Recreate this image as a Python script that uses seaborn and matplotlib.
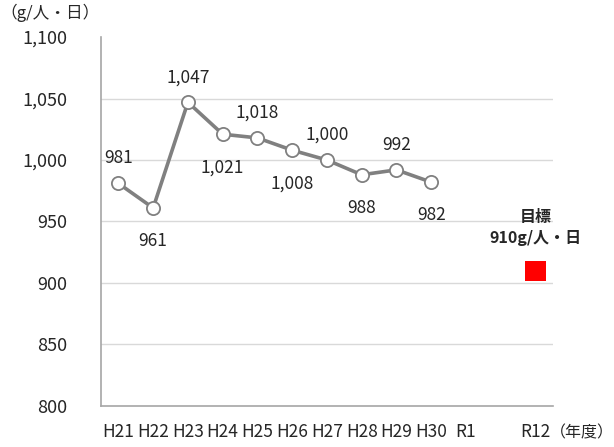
import matplotlib
matplotlib.use("Agg")
import matplotlib.pyplot as plt
import seaborn as sns
import pandas as pd
import numpy as np

# data
years = ["H21", "H22", "H23", "H24", "H25", "H26", "H27", "H28", "H29", "H30", "R1", "", "R12"]
actual_years = ["H21", "H22", "H23", "H24", "H25", "H26", "H27", "H28", "H29", "H30"]
amounts = [981, 961, 1047, 1021, 1018, 1008, 1000, 988, 992, 982]
label_above = [True, False, True, False, True, False, True, False, True, False]
target_year = "R12"
target_value = 910
y_ticks = [800, 850, 900, 950, 1000, 1050, 1100]

sns.set_style("white")
plt.rcParams['font.family'] = ['Noto Sans CJK JP', 'DejaVu Sans']

fig = plt.figure(figsize=(6.14, 4.47), dpi=100)
ax = fig.add_axes([0.1645, 0.092, 0.736, 0.825])

pos = {name: i for i, name in enumerate(years)}
df = pd.DataFrame({"x": [pos[y] for y in actual_years], "amount": amounts})

sns.lineplot(data=df, x="x", y="amount", ax=ax, color="#808080", linewidth=2.6,
             marker="o", markersize=9.5, markerfacecolor="white",
             markeredgecolor="#808080", markeredgewidth=1.3, zorder=3)

# target point
sns.scatterplot(x=[pos[target_year]], y=[target_value], ax=ax, marker="s",
                s=210, color="#ff0000", edgecolor="none", zorder=3)
ax.annotate("目標\n910g/人・日", (pos[target_year], target_value),
            xytext=(0, 31), textcoords="offset points", ha="center", va="center",
            fontsize=11.5, fontweight="bold", linespacing=1.35)

# data labels
for x, v, up in zip(df["x"], amounts, label_above):
    ax.annotate(f"{v:,}", (x, v), xytext=(0, 18 if up else -24),
                textcoords="offset points", ha="center", va="center", fontsize=12.5)

ax.set_xlim(-0.5, len(years) - 0.5)
ax.set_ylim(800, 1100)
ax.set_yticks(y_ticks)
ax.set_yticklabels([f"{t:,}" for t in y_ticks], fontsize=13)
ax.set_xticks(range(len(years)))
ax.set_xticklabels(years, fontsize=12.5)
ax.set_xticks(np.arange(-0.5, len(years)), minor=True)
ax.tick_params(axis="x", which="major", length=0, pad=12)
ax.tick_params(axis="x", which="minor", direction="in", length=4, color="#a6a6a6", width=1)
ax.tick_params(axis="y", direction="in", length=6, color="#a6a6a6", width=1, pad=24)
ax.set_xlabel("")
ax.set_ylabel("")

for yv in y_ticks[1:-1]:
    ax.axhline(yv, color="#d9d9d9", linewidth=1, zorder=0)

for side in ["top", "right"]:
    ax.spines[side].set_visible(False)
for side in ["left", "bottom"]:
    ax.spines[side].set_color("#a6a6a6")
    ax.spines[side].set_linewidth(1.2)

fig.text(0.082, 0.972, "（g/人・日）", ha="center", va="center", fontsize=12)
ax.text(0.993, -0.072, "（年度）", transform=ax.transAxes, ha="left", va="center", fontsize=11.5)

fig.savefig("out.png", dpi=100)
